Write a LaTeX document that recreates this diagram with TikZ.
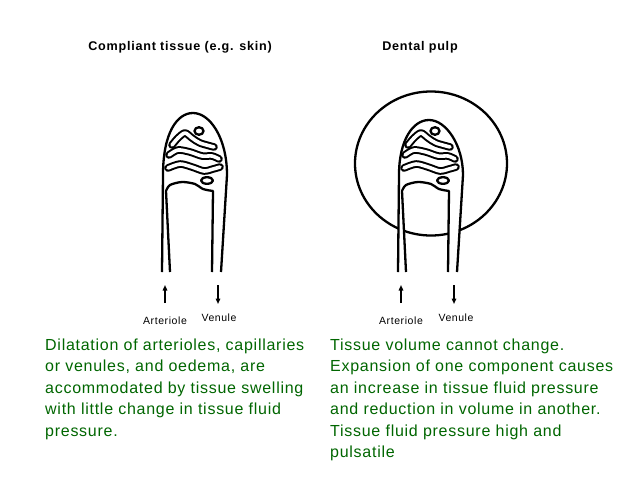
\documentclass[tikz,border=0pt]{standalone}
\usepackage{fontspec}
\setmainfont{Liberation Sans}
\newfontfamily\bodyfont{Liberation Sans}[LetterSpace=4.6]
\newfontfamily\titlefont{Liberation Sans}[LetterSpace=6]
\newfontfamily\labelfont{Liberation Sans}[LetterSpace=5.5]
\usetikzlibrary{arrows.meta}
\definecolor{txtgreen}{RGB}{0,102,0}
\tikzset{
  wallline/.style={draw=black, line width=2.3pt, line join=round},
  capband/.style={draw=black, line width=2pt, double=white, double distance=3.6pt, line cap=round, line join=round},
  arr/.style={draw=black, line width=1.4pt, -{Triangle[length=5.5pt,width=4.5pt]}},
  lbl/.style={font=\labelfont\fontsize{10.5}{12}\selectfont, inner sep=0pt, anchor=base},
  ttl/.style={font=\titlefont\bfseries\fontsize{12.6}{14}\selectfont, inner sep=0pt, anchor=base},
  bodytext/.style={font=\bodyfont\fontsize{16}{21.5}\selectfont, text=txtgreen, align=left, inner sep=0pt, anchor=north west}
}
\newcommand\hairpin[2]{%
  \begin{scope}[shift={(#1,0)}]
    \fill[white] (162,272) -- (163,175) .. controls (163,#2+20) and (177,#2) .. (193,#2)
      .. controls (210,#2) and (227,#2+25) .. (227,175) -- (221,272) -- (212,272) -- (213,191)
      -- plot[smooth] coordinates {(213,191) (203,189) (195,184) (182,182) (170,185) (166,191)}
      -- (170,272) -- cycle;
    \draw[wallline] (162,272) -- (163,175) .. controls (163,#2+20) and (177,#2) .. (193,#2)
      .. controls (210,#2) and (227,#2+25) .. (227,175) -- (221,272);
    \draw[wallline] (170,272) -- (166,191)
      -- plot[smooth] coordinates {(166,191) (170,185) (182,182) (195,184) (203,189) (213,191)}
      -- (212,272);
    \draw[capband] plot[smooth] coordinates {(172,145) (178,138) (185,133) (192,138) (200,143) (214,147)};
    \draw[capband] plot[smooth] coordinates {(169,155) (178,150) (190,152) (202,156) (212,156) (219,159)};
    \draw[capband] plot[smooth] coordinates {(168,168) (180,164) (192,167) (204,171) (213,169) (220,167)};
    \draw[wallline] (199,131) ellipse [x radius=4.5pt, y radius=3.8pt];
    \draw[wallline] (207,180.5) ellipse [x radius=6pt, y radius=3.3pt];
  \end{scope}}
\begin{document}
\begin{tikzpicture}[x=1pt,y=-1pt]
  \useasboundingbox[fill=white] (0,0) rectangle (640,480);
  % titles
  \node[ttl] (titleL) at (180,50) {Compliant tissue (e.g. skin)};
  \node[ttl] (titleR) at (420,50) {Dental pulp};
  % dental pulp enclosure
  \draw[wallline] (431,163.5) ellipse [x radius=76pt, y radius=72pt];
  % capillary loops
  \hairpin{0}{113}
  \hairpin{236}{120}
  % arrows
  \coordinate (aLs) at (165,303); \coordinate (aLe) at (165,285);
  \coordinate (vLs) at (218,285); \coordinate (vLe) at (218,304);
  \coordinate (aRs) at (401,303); \coordinate (aRe) at (401,285);
  \coordinate (vRs) at (454,285); \coordinate (vRe) at (454,304);
  \draw[arr] (aLs) -- (aLe);
  \draw[arr] (vLs) -- (vLe);
  \draw[arr] (aRs) -- (aRe);
  \draw[arr] (vRs) -- (vRe);
  % labels
  \node[lbl] (artL) at (165,324) {Arteriole};
  \node[lbl] (venL) at (219,321.7) {Venule};
  \node[lbl] (artR) at (401,324) {Arteriole};
  \node[lbl] (venR) at (456,321.7) {Venule};
  % body texts
  \node[bodytext] (txtL) at (45,336) {\rule{0pt}{14pt}Dilatation of arterioles, capillaries\\or venules, and oedema, are\\accommodated by tissue swelling\\with little change in tissue fluid\\pressure.};
  \node[bodytext] (txtR) at (330,336) {\rule{0pt}{14pt}Tissue volume cannot change.\\Expansion of one component causes\\an increase in tissue fluid pressure\\and reduction in volume in another.\\Tissue fluid pressure high and\\pulsatile};
\end{tikzpicture}
\end{document}
